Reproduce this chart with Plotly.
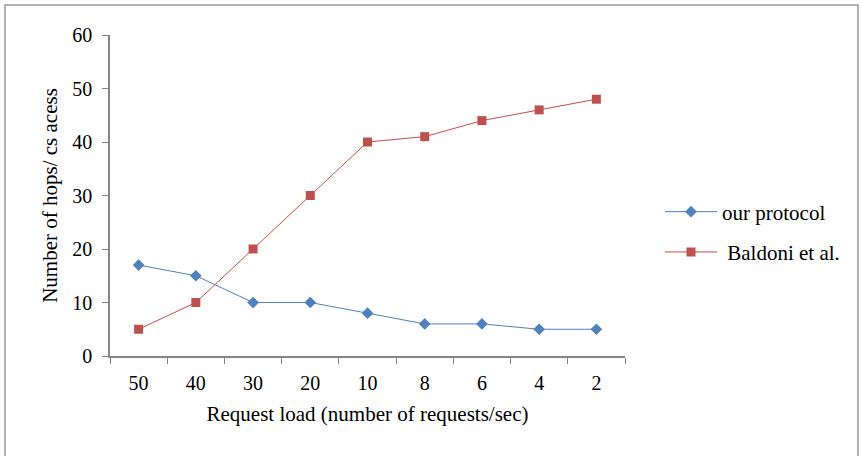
import plotly.graph_objects as go

categories = ["50", "40", "30", "20", "10", "8", "6", "4", "2"]
our_protocol = [17, 15, 10, 10, 8, 6, 6, 5, 5]
baldoni = [5, 10, 20, 30, 40, 41, 44, 46, 48]

font_family = "Liberation Serif, Times New Roman, serif"
axis_color = "#868686"

fig = go.Figure()
fig.add_trace(go.Scatter(
    x=categories, y=our_protocol, mode="lines+markers", name="our protocol",
    line=dict(color="#4F81BD", width=1),
    marker=dict(symbol="diamond", size=9, color="#4F81BD"),
    legendgroup="a",
))
fig.add_trace(go.Scatter(
    x=categories, y=baldoni, mode="lines+markers", name=" Baldoni et al.",
    line=dict(color="#C0504D", width=1),
    marker=dict(symbol="square", size=9, color="#C0504D"),
    legendgroup="b",
))

L, R, T, B = 110, 625, 35, 356
W, H = 861, 456
pw, ph = R - L, B - T

fig.update_layout(
    width=W, height=H,
    margin=dict(l=L, r=W - R, t=T, b=H - B),
    paper_bgcolor="white", plot_bgcolor="white",
    font=dict(family=font_family, size=20, color="black"),
    legend=dict(
        x=(660 - L) / pw, y=(B - 232) / ph, xanchor="left", yanchor="middle",
        font=dict(size=21), tracegroupgap=10, traceorder="grouped",
        itemwidth=52,
        bgcolor="rgba(0,0,0,0)",
    ),
    xaxis=dict(
        type="category", range=[-0.5, 8.5], tickson="boundaries",
        ticks="outside", ticklen=6, tickcolor=axis_color,
        showline=True, linecolor=axis_color, linewidth=1.5,
        showgrid=False, zeroline=False,
        tickfont=dict(size=20), ticklabelstandoff=8,
        title=dict(text="Request load (number of requests/sec)", font=dict(size=21), standoff=14),
    ),
    yaxis=dict(
        range=[0, 60], dtick=10, ticks="outside", ticklen=6, tickcolor=axis_color,
        showline=True, linecolor=axis_color, linewidth=1.5,
        showgrid=False, zeroline=False,
        tickfont=dict(size=20), ticklabelstandoff=6,
        title=dict(text="Number of hops/ cs acess", font=dict(size=21), standoff=9),
    ),
    shapes=[dict(
        type="rect", xref="paper", yref="paper",
        x0=(5 - L) / pw, x1=(858 - L) / pw,
        y0=(B - 470) / ph, y1=(B - 5) / ph,
        line=dict(color="#9a9a9a", width=1.5), fillcolor="rgba(0,0,0,0)",
        layer="below",
    )],
)

fig.write_html("out.html")
